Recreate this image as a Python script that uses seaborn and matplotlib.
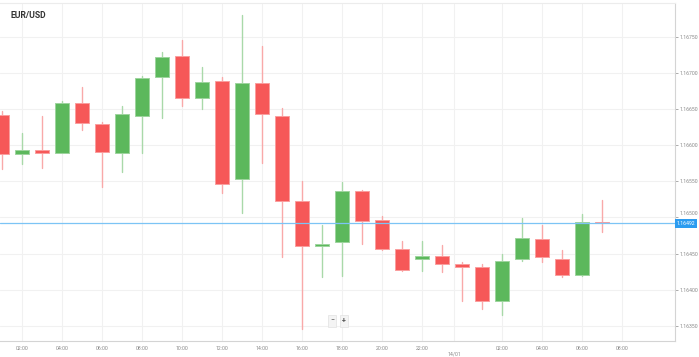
import numpy as np
import pandas as pd
import seaborn as sns
import matplotlib.pyplot as plt
import matplotlib.transforms as mtransforms

# hourly candles, hour 1 = 01:00 on 13/01
hours = list(range(1, 32))
opens = [1.16642, 1.16588, 1.16593, 1.16589, 1.16659, 1.16630, 1.16590, 1.16641,
         1.16694, 1.16724, 1.16665, 1.16689, 1.16553, 1.16686, 1.16641, 1.16523,
         1.16461, 1.16466, 1.16537, 1.16496, 1.16456, 1.16443, 1.16446, 1.16435,
         1.16432, 1.16384, 1.16442, 1.16470, 1.16442, 1.16421, 1.16494]
closes = [1.16588, 1.16593, 1.16590, 1.16658, 1.16631, 1.16591, 1.16644, 1.16693,
          1.16722, 1.16666, 1.16688, 1.16546, 1.16686, 1.16643, 1.16523, 1.16461,
          1.16463, 1.16536, 1.16495, 1.16457, 1.16428, 1.16447, 1.16435, 1.16432,
          1.16384, 1.16440, 1.16472, 1.16445, 1.16421, 1.16494, 1.16492]
highs = [1.16647, 1.16617, 1.16640, 1.16661, 1.16680, 1.16632, 1.16654, 1.16696,
         1.16729, 1.16746, 1.16708, 1.16694, 1.16781, 1.16737, 1.16652, 1.16551,
         1.16489, 1.16549, 1.16538, 1.16502, 1.16468, 1.16468, 1.16462, 1.16439,
         1.16435, 1.16449, 1.16499, 1.16490, 1.16455, 1.16505, 1.16524]
lows = [1.16567, 1.16574, 1.16569, 1.16589, 1.16621, 1.16542, 1.16563, 1.16589,
        1.16638, 1.16654, 1.16650, 1.16534, 1.16506, 1.16576, 1.16445, 1.16346,
        1.16418, 1.16419, 1.16463, 1.16455, 1.16426, 1.16426, 1.16425, 1.16384,
        1.16373, 1.16365, 1.16440, 1.16438, 1.16418, 1.16419, 1.16480]
last_price = 1.16492

x_ticks = [2, 4, 6, 8, 10, 12, 14, 16, 18, 20, 22, 23.6, 26, 28, 30, 32]
x_labels = ['02:00', '04:00', '06:00', '08:00', '10:00', '12:00', '14:00', '16:00',
            '18:00', '20:00', '22:00', '\n14/01', '02:00', '04:00', '06:00', '08:00']
y_ticks = [1.16350, 1.16400, 1.16450, 1.16500, 1.16550, 1.16600, 1.16650, 1.16700, 1.16750]

df = pd.DataFrame({'hour': hours, 'open': opens, 'high': highs, 'low': lows, 'close': closes})
df['dir'] = np.where(df['close'] >= df['open'], 'up', 'down')

green = '#5cb85c'
red = '#f65858'
body_pal = {'up': green, 'down': red}
wick_pal = {'up': '#a9d9a9', 'down': '#f9a9a9'}
edge_pal = {'up': '#9ed49e', 'down': '#fa9e9e'}

sns.set_theme(style='white')
plt.rcParams['font.family'] = ['Roboto', 'DejaVu Sans']
fig = plt.figure(figsize=(6.99, 3.57), dpi=100)
ax = fig.add_axes([0, 16 / 357, 675 / 699, 338 / 357])

# wicks
wicks = df.melt(id_vars=['hour', 'dir'], value_vars=['high', 'low'], value_name='price')
sns.lineplot(data=wicks, x='hour', y='price', hue='dir', units='hour', estimator=None,
             palette=wick_pal, lw=1, legend=False, ax=ax)

# bodies
bottom = df[['open', 'close']].min(axis=1)
height = (df['close'] - df['open']).abs()
ax.bar(df['hour'], height, bottom=bottom, width=0.67,
       color=df['dir'].map(body_pal), edgecolor=df['dir'].map(edge_pal), linewidth=0.7, zorder=3)

ax.axhline(last_price, color='#7cc4f5', lw=0.9, zorder=4)
trans = mtransforms.blended_transform_factory(ax.transAxes, ax.transData)
ax.text(1.003, last_price, '1.16492', transform=trans, ha='left', va='center', fontsize=3.7,
        color='white', bbox=dict(boxstyle='square,pad=0.35', fc='#2c9cf0', ec='none'), clip_on=False)

ax.set_xlim(0.9, 34.65)
ax.set_ylim(1.16329, 1.16797)
ax.set_xticks(x_ticks)
ax.set_xticklabels(x_labels)
ax.set_yticks(y_ticks)
ax.set_yticklabels([f'{v:.5f}' for v in y_ticks])
ax.yaxis.tick_right()
ax.tick_params(labelsize=3.7, colors='#8a8a8a', length=2, width=0.5, pad=1.5)
ax.set_xlabel('')
ax.set_ylabel('')
ax.grid(True, color='#f1f1f1', lw=0.8)
ax.set_axisbelow(True)

# nudge the 1.16500 label up so the price tag doesn't cover it
shift = mtransforms.ScaledTranslation(0, 4 / 100, fig.dpi_scale_trans)
for lbl in ax.get_yticklabels():
    if lbl.get_text() == '1.16500':
        lbl.set_transform(lbl.get_transform() + shift)

for side in ['top', 'right', 'bottom']:
    ax.spines[side].set_color('#d4d4d4')
    ax.spines[side].set_linewidth(0.8)
ax.spines['top'].set_color('#ececec')
ax.spines['left'].set_visible(False)

ax.text(0.016, 0.975, 'EUR/USD', transform=ax.transAxes, fontsize=6.2, weight='bold',
        color='#333333', va='top', ha='left')

# zoom buttons
btn = dict(boxstyle='square,pad=0.35', fc='#f4f4f4', ec='#e2e2e2', lw=0.5)
fig.text(332 / 699, 1 - 321 / 357, '−', fontsize=5, color='#555555', ha='center', va='center', bbox=btn)
fig.text(344 / 699, 1 - 321 / 357, '+', fontsize=5, color='#555555', ha='center', va='center',
         weight='bold', bbox=btn)

fig.savefig('out.png', dpi=100)
